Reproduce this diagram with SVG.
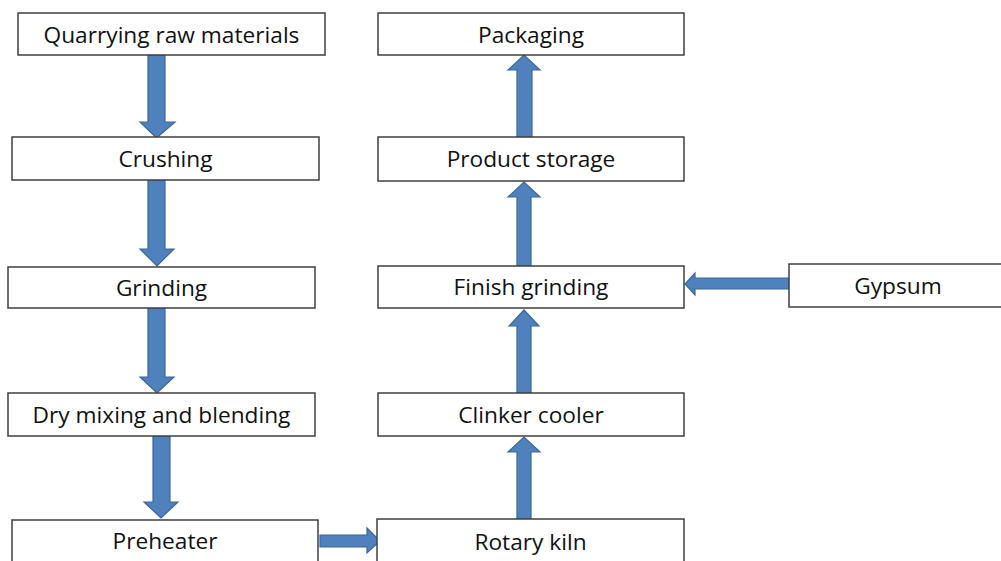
<svg xmlns="http://www.w3.org/2000/svg" width="1001" height="561" viewBox="0 0 1001 561">
<style>
.box{fill:#ffffff;stroke:#3f3f3f;stroke-width:1.5}
.lbl{font-family:"Open Sans","Liberation Sans",sans-serif;font-size:22.7px;fill:#111111;text-anchor:middle}
.arr{fill:#4f81bd;stroke:#3b6897;stroke-width:1.2;stroke-linejoin:miter}
</style>
<rect width="1001" height="561" fill="#ffffff"/>
<g id="connectors">
<!-- Quarrying -> Crushing -->
<polygon class="arr" points="148,55 165,55 165,122 175,122 156.5,138 140,122 148,122"/>
<!-- Crushing -> Grinding -->
<polygon class="arr" points="148,180 165,180 165,249 174,249 157,266 140,249 148,249"/>
<!-- Grinding -> Dry mixing -->
<polygon class="arr" points="148,308 165,308 165,377 174,377 157,393 140,377 148,377"/>
<!-- Dry mixing -> Preheater -->
<polygon class="arr" points="153,436 170,436 170,502 178,502 161,518 144,502 153,502"/>
<!-- Preheater -> Rotary kiln -->
<polygon class="arr" points="320,535 367,535 367,528 380,541 367,553 367,547 320,547"/>
<!-- Rotary kiln -> Clinker cooler -->
<polygon class="arr" points="517,520 531,520 531,452 540,452 524,437 508,452 517,452"/>
<!-- Clinker cooler -> Finish grinding -->
<polygon class="arr" points="517,393 531,393 531,326 539,326 524,310 509,326 517,326"/>
<!-- Finish grinding -> Product storage -->
<polygon class="arr" points="517,266 531,266 531,197 540,197 524,182 508,197 517,197"/>
<!-- Product storage -> Packaging -->
<polygon class="arr" points="517,137 532,137 532,70 540,70 524,55 508,70 517,70"/>
<!-- Gypsum -> Finish grinding -->
<polygon class="arr" points="789,278 695,278 695,273 685,284 695,295 695,289 789,289"/>
</g>
<g id="quarrying"><rect class="box" x="18" y="13" width="307" height="42"/><text class="lbl" x="171.5" y="43">Quarrying raw materials</text></g>
<g id="crushing"><rect class="box" x="12" y="137" width="307" height="43"/><text class="lbl" x="165.5" y="167">Crushing</text></g>
<g id="grinding"><rect class="box" x="8" y="267" width="307" height="41"/><text class="lbl" x="161.5" y="296">Grinding</text></g>
<g id="drymixing"><rect class="box" x="8" y="393" width="307" height="43"/><text class="lbl" x="161.5" y="423">Dry mixing and blending</text></g>
<g id="preheater"><rect class="box" x="12" y="520" width="306" height="43"/><text class="lbl" x="165" y="549">Preheater</text></g>
<g id="rotarykiln"><rect class="box" x="377" y="519" width="307" height="44"/><text class="lbl" x="530.5" y="550">Rotary kiln</text></g>
<g id="clinkercooler"><rect class="box" x="378" y="393" width="306" height="43"/><text class="lbl" x="531" y="423">Clinker cooler</text></g>
<g id="finishgrinding"><rect class="box" x="378" y="266" width="306" height="42"/><text class="lbl" x="531" y="295">Finish grinding</text></g>
<g id="gypsum"><rect class="box" x="789" y="264" width="214" height="43"/><text class="lbl" x="898" y="294">Gypsum</text></g>
<g id="productstorage"><rect class="box" x="378" y="137" width="306" height="44"/><text class="lbl" x="531" y="167">Product storage</text></g>
<g id="packaging"><rect class="box" x="378" y="13" width="306" height="42"/><text class="lbl" x="531" y="43">Packaging</text></g>
</svg>
